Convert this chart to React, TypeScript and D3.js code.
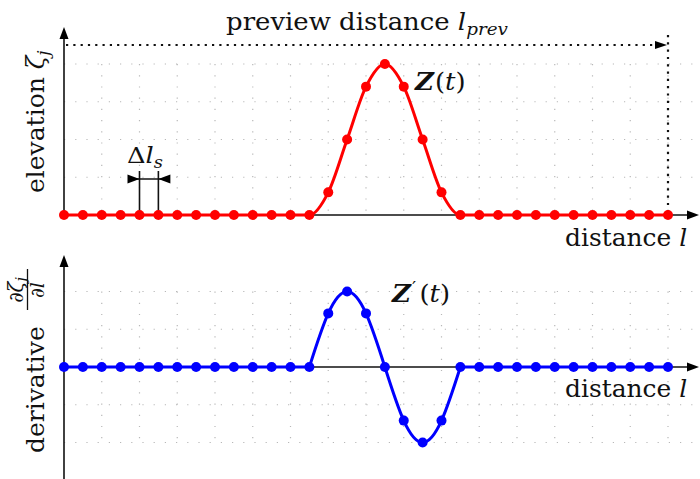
import React from "react";
import * as d3 from "d3";

// Sample positions along the preview horizon (sample index j)
const sampleIndex = [
  0, 1, 2, 3, 4, 5, 6, 7, 8, 9, 10, 11, 12, 13, 14, 15, 16,
  17, 18, 19, 20, 21, 22, 23, 24, 25, 26, 27, 28, 29, 30, 31, 32,
];

// Normalised road elevation at each sample
const elevation = [
  0, 0, 0, 0, 0, 0, 0, 0, 0, 0, 0, 0, 0, 0,
  0.15, 0.5, 0.85, 1, 0.85, 0.5, 0.15,
  0, 0, 0, 0, 0, 0, 0, 0, 0, 0, 0, 0,
];

// Normalised elevation gradient at each sample
const derivative = [
  0, 0, 0, 0, 0, 0, 0, 0, 0, 0, 0, 0, 0, 0,
  0.71, 1, 0.71, 0, -0.71, -1, -0.71,
  0, 0, 0, 0, 0, 0, 0, 0, 0, 0, 0, 0,
];

// Grid lines
const gridColumns = [2, 4, 6, 8, 10, 12, 14, 16, 18, 20, 22, 24, 26, 28, 30, 32];
const elevationGrid = [0.25, 0.5, 0.75, 1];
const derivativeGrid = [-1, -0.5, 0.5, 1];

// Samples bounding the slope (where the bump starts and ends)
const bumpStart = 13;
const bumpEnd = 21;
// Pair of samples used for the spacing dimension
const spacingPair = [4, 5];

const W = 700;
const H = 479;
const FONT = "DejaVu Serif";
const SX = 1.08;

const RED = "#ff0000";
const BLUE = "#0000ff";

function ArrowHead({ x, y, dir, len = 12, half = 4.5, fill = "#000" }: any) {
  let pts: number[][];
  if (dir === "right") pts = [[x, y], [x - len, y - half], [x - len, y + half]];
  else if (dir === "left") pts = [[x, y], [x + len, y - half], [x + len, y + half]];
  else pts = [[x, y], [x - half, y + len], [x + half, y + len]];
  return <polygon points={pts.map((p) => p.join(",")).join(" ")} fill={fill} />;
}

export default function App() {
  const x = d3.scaleLinear().domain([0, 32]).range([64, 668]);
  const yTop = d3.scaleLinear().domain([0, 1]).range([215, 64]);
  const yBot = d3.scaleLinear().domain([-1, 1]).range([442.5, 291.5]);

  const topPts = sampleIndex.map((j, i) => [j, elevation[i]] as [number, number]);
  const botPts = sampleIndex.map((j, i) => [j, derivative[i]] as [number, number]);

  const topLine = d3
    .line<[number, number]>()
    .x((d) => x(d[0]))
    .y((d) => yTop(d[1]))
    .curve(d3.curveMonotoneX);

  const botLinear = d3
    .line<[number, number]>()
    .x((d) => x(d[0]))
    .y((d) => yBot(d[1]));
  const botSmooth = d3
    .line<[number, number]>()
    .x((d) => x(d[0]))
    .y((d) => yBot(d[1]))
    .curve(d3.curveNatural);

  const botBefore = botPts.filter((d) => d[0] <= bumpStart);
  const botBump = botPts.filter((d) => d[0] >= bumpStart && d[0] <= bumpEnd);
  const botAfter = botPts.filter((d) => d[0] >= bumpEnd);

  const gridStyle = {
    stroke: "#b8b8b8",
    strokeWidth: 1.2,
    strokeDasharray: "1.2 10",
    fill: "none",
  };

  const xLast = x(32);
  const sx0 = x(spacingPair[0]);
  const sx1 = x(spacingPair[1]);

  return (
    <svg width={W} height={H} style={{ display: "block", position: "absolute", left: 0, top: 0 }}>
      <rect width={W} height={H} fill="#fff" />

      {/* dotted grid, elevation panel */}
      {elevationGrid.map((v) => (
        <line key={"th" + v} x1={64} x2={700} y1={yTop(v)} y2={yTop(v)} style={gridStyle} />
      ))}
      {gridColumns.map((c) => (
        <line key={"tv" + c} x1={x(c)} x2={x(c)} y1={yTop(1)} y2={yTop(0)} style={gridStyle} />
      ))}

      {/* dotted grid, derivative panel */}
      {derivativeGrid.map((v) => (
        <line key={"bh" + v} x1={64} x2={700} y1={yBot(v)} y2={yBot(v)} style={gridStyle} />
      ))}
      {gridColumns.map((c) => (
        <line key={"bv" + c} x1={x(c)} x2={x(c)} y1={yBot(1)} y2={yBot(-1)} style={gridStyle} />
      ))}

      {/* axes */}
      <g stroke="#111" strokeWidth={1.6}>
        <line x1={64} x2={690} y1={yTop(0)} y2={yTop(0)} />
        <line x1={64} x2={64} y1={yTop(0)} y2={38} />
        <line x1={64} x2={690} y1={yBot(0)} y2={yBot(0)} />
        <line x1={64} x2={64} y1={H} y2={266} />
      </g>
      <ArrowHead x={699} y={yTop(0)} dir="right" />
      <ArrowHead x={64} y={27} dir="up" />
      <ArrowHead x={699} y={yBot(0)} dir="right" />
      <ArrowHead x={64} y={255} dir="up" />

      {/* preview horizon */}
      <line
        x1={66}
        x2={656}
        y1={45}
        y2={45}
        stroke="#111"
        strokeWidth={2.2}
        strokeDasharray="2.2 5.1"
      />
      <ArrowHead x={667} y={45} dir="right" len={12} half={4} />
      <line
        x1={xLast}
        x2={xLast}
        y1={35}
        y2={yTop(0)}
        stroke="#111"
        strokeWidth={2.2}
        strokeDasharray="2.2 5.1"
      />

      {/* sample spacing dimension */}
      <g stroke="#111" strokeWidth={1.6}>
        <line x1={sx0} x2={sx0} y1={yTop(0)} y2={171} />
        <line x1={sx1} x2={sx1} y1={yTop(0)} y2={171} />
        <line x1={sx0 - 10} x2={sx1 + 10} y1={179} y2={179} />
      </g>
      <ArrowHead x={sx0} y={179} dir="right" len={12} half={4.5} />
      <ArrowHead x={sx1} y={179} dir="left" len={12} half={4.5} />

      {/* elevation profile */}
      <path d={topLine(topPts) ?? ""} fill="none" stroke={RED} strokeWidth={3} />
      {topPts.map((d) => (
        <circle key={"tp" + d[0]} cx={x(d[0])} cy={yTop(d[1])} r={5} fill={RED} />
      ))}

      {/* elevation gradient */}
      <g fill="none" stroke={BLUE} strokeWidth={3} strokeLinejoin="round">
        <path d={botLinear(botBefore) ?? ""} />
        <path d={botSmooth(botBump) ?? ""} />
        <path d={botLinear(botAfter) ?? ""} />
      </g>
      {botPts.map((d) => (
        <circle key={"bp" + d[0]} cx={x(d[0])} cy={yBot(d[1])} r={5} fill={BLUE} />
      ))}

      {/* labels */}
      <g fontFamily={FONT} fill="#111">
        <text transform={`translate(367,30) scale(${SX},1)`} textAnchor="middle" fontSize={24}>
          preview distance <tspan fontStyle="italic">l</tspan>
          <tspan fontStyle="italic" fontSize={17} dy={5}>prev</tspan>
        </text>

        <text transform={`translate(565,246) scale(1.06,1)`} fontSize={23.5}>
          distance <tspan fontStyle="italic">l</tspan>
        </text>
        <text transform={`translate(565,397) scale(1.06,1)`} fontSize={23.5}>
          distance <tspan fontStyle="italic">l</tspan>
        </text>

        <text transform={`translate(127,163) scale(1.12,1)`} fontSize={23}>
          Δ<tspan fontStyle="italic">l</tspan>
          <tspan fontStyle="italic" fontSize={16} dy={5}>s</tspan>
        </text>

        <text transform={`translate(415,90) scale(${SX},1)`} fontSize={24}>
          <tspan fontStyle="italic" fontWeight="bold">Z</tspan>
          <tspan dx={1}>(</tspan>
          <tspan fontStyle="italic">t</tspan>
          <tspan>)</tspan>
        </text>

        <text transform={`translate(392,302) scale(${SX},1)`} fontSize={24}>
          <tspan fontStyle="italic" fontWeight="bold">Z</tspan>
          <tspan fontSize={17} dx={1} dy={-9}>′</tspan>
          <tspan dx={3} dy={9}>(</tspan>
          <tspan fontStyle="italic">t</tspan>
          <tspan>)</tspan>
        </text>

        <text transform="translate(44,193) rotate(-90)" fontSize={25}>
          elevation <tspan fontStyle="italic">ζ</tspan>
          <tspan fontStyle="italic" fontSize={17} dy={5}>j</tspan>
        </text>

        <g transform="translate(44,453) rotate(-90)">
          <text x={0} y={0} fontSize={25}>derivative</text>
          <text x={163} y={-21} fontSize={20} textAnchor="middle">
            ∂<tspan fontStyle="italic">ζ</tspan>
            <tspan fontStyle="italic" fontSize={14} dy={3}>j</tspan>
          </text>
          <line x1={143} x2={184} y1={-16.5} y2={-16.5} stroke="#111" strokeWidth={1.3} />
          <text x={163} y={0} fontSize={19} textAnchor="middle">
            ∂<tspan fontStyle="italic">l</tspan>
          </text>
        </g>
      </g>
    </svg>
  );
}
